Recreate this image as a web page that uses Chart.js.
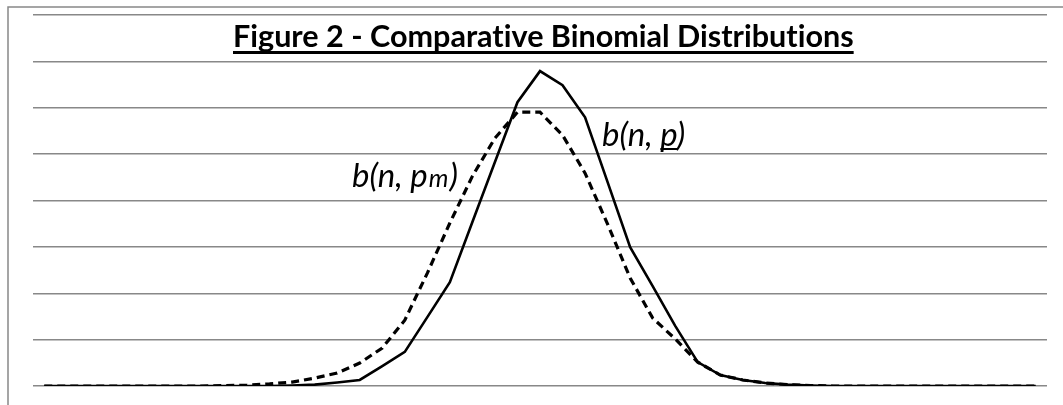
<!DOCTYPE html>
<html>
<head>
<meta charset="utf-8">
<script src="https://cdn.jsdelivr.net/npm/chart.js@4/dist/chart.umd.min.js"></script>
<style>
  html, body { margin: 0; padding: 0; background: #fff; }
  #wrap { width: 1063px; height: 405px; position: relative; }
</style>
</head>
<body>
<div id="wrap"><canvas id="chart"></canvas></div>
<script>
// ZWNJ keeps Lato from drawing a "ti" ligature
const titleText = 'Figure 2 - Comparat\u200Cive Binomial Distribut\u200Cions';

const categories = [
  0, 1, 2, 3, 4, 5, 6, 7, 8, 9, 10, 11, 12, 13, 14, 15, 16, 17, 18, 19, 20, 21, 22,
  23, 24, 25, 26, 27, 28, 29, 30, 31, 32, 33, 34, 35, 36, 37, 38, 39, 40, 41, 42, 43, 44
];

// b(n, p) - solid line
const solidValues = [
  0, 0, 0, 0, 0, 0, 0, 0, 0, 0, 0, 0.0002, 0.0006, 0.0015, 0.0026, 0.0086, 0.0147,
  0.0297, 0.0448, 0.0707, 0.0966, 0.1224, 0.1358, 0.1297, 0.1159, 0.0879, 0.0599,
  0.0431, 0.0259, 0.0103, 0.0047, 0.0026, 0.0013, 0.0006, 0.0002, 0, 0, 0, 0, 0, 0, 0, 0, 0, 0
];

// b(n, pm) - dashed line
const dashedValues = [
  0, 0, 0, 0, 0, 0, 0, 0, 0.0002, 0.0004, 0.0009, 0.0017, 0.0034, 0.0056, 0.0099,
  0.0164, 0.0284, 0.0487, 0.0703, 0.0905, 0.1069, 0.1181, 0.1181, 0.1082, 0.0918,
  0.0698, 0.0466, 0.0293, 0.0203, 0.0103, 0.0047, 0.0026, 0.0013, 0.0006, 0.0002,
  0, 0, 0, 0, 0, 0, 0, 0, 0, 0
];

const yMin = 0;
const yMax = 0.16;
const yStep = 0.02;

const gridColor = '#888';

// frame, title and the two curve labels
const decorations = {
  id: 'decorations',
  beforeDraw(chart) {
    const { ctx, width, height } = chart;
    ctx.save();
    ctx.fillStyle = '#fff';
    ctx.fillRect(0, 0, width, height);
    ctx.strokeStyle = gridColor;
    ctx.lineWidth = 1.5;
    ctx.beginPath();
    ctx.moveTo(8, height);
    ctx.lineTo(8, 7);
    ctx.lineTo(width, 7);
    ctx.stroke();
    ctx.restore();
  },
  afterDraw(chart) {
    const { ctx, chartArea } = chart;
    ctx.save();
    ctx.fillStyle = '#000';
    ctx.textBaseline = 'alphabetic';

    // title
    let size = 28;
    ctx.font = `bold ${size}px Lato`;
    const w0 = ctx.measureText(titleText).width;
    size = size * 621 / w0;
    ctx.font = `bold ${size}px Lato`;
    const tw = ctx.measureText(titleText).width;
    const tx = 233;
    ctx.fillText(titleText, tx, chartArea.top + 32);
    ctx.fillRect(tx, chartArea.top + 36, tw, 3);

    // b(n, p)
    ctx.font = 'italic 33px Lato';
    const lx = 602, ly = 146;
    ctx.fillText('b(n, p)', lx, ly);
    const pre = ctx.measureText('b(n, ').width;
    const pw = ctx.measureText('p').width;
    ctx.fillRect(lx + pre, ly + 2, pw, 2);

    // b(n, pm)
    const mx = 352, my = 187;
    ctx.fillText('b(n, p', mx, my);
    let off = ctx.measureText('b(n, p').width + 1;
    ctx.font = 'italic 25px Lato';
    ctx.fillText('m', mx + off, my);
    off += ctx.measureText('m').width + 1;
    ctx.font = 'italic 33px Lato';
    ctx.fillText(')', mx + off, my);
    ctx.restore();
  }
};

new Chart(document.getElementById('chart'), {
  type: 'line',
  data: {
    labels: categories,
    datasets: [
      {
        data: solidValues,
        borderColor: '#000',
        borderWidth: 2.6,
        pointRadius: 0,
        tension: 0,
        borderJoinStyle: 'miter',
      },
      {
        data: dashedValues,
        borderColor: '#000',
        borderWidth: 3.2,
        borderDash: [8, 5],
        pointRadius: 0,
        tension: 0,
      },
    ],
  },
  options: {
    responsive: true,
    maintainAspectRatio: false,
    animation: false,
    layout: { padding: { left: 33, right: 16, top: 15, bottom: 19 } },
    plugins: { legend: { display: false }, tooltip: { enabled: false }, title: { display: false } },
    scales: {
      x: {
        display: false,
        offset: true,
      },
      y: {
        min: yMin,
        max: yMax,
        ticks: { display: false, stepSize: yStep },
        grid: { color: gridColor, lineWidth: 1.5, drawTicks: false },
        border: { display: false },
        afterFit(scale) { scale.width = 0; },
      },
    },
  },
  plugins: [decorations],
});
</script>
</body>
</html>
